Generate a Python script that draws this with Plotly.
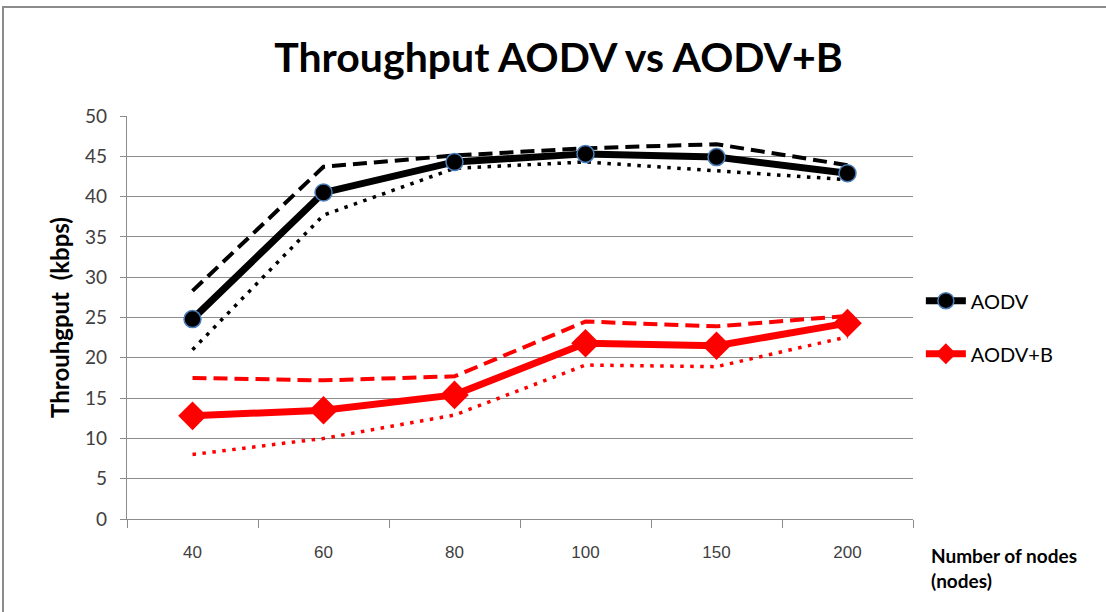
import plotly.graph_objects as go

# Number of nodes (categories on the x axis)
nodes = ["40", "60", "80", "100", "150", "200"]

# AODV throughput (kbps): mean with upper / lower bounds
aodv = [24.8, 40.5, 44.3, 45.3, 44.9, 42.9]
aodv_upper = [28.3, 43.7, 45.1, 46.0, 46.5, 43.9]
aodv_lower = [21.0, 37.7, 43.5, 44.3, 43.2, 42.1]

# AODV+B throughput (kbps): mean with upper / lower bounds
aodvb = [12.8, 13.5, 15.4, 21.8, 21.5, 24.3]
aodvb_upper = [17.5, 17.2, 17.7, 24.5, 23.9, 25.2]
aodvb_lower = [8.0, 10.0, 12.9, 19.1, 18.9, 22.6]

y_ticks = [0, 5, 10, 15, 20, 25, 30, 35, 40, 45, 50]

BLACK = "#000000"
RED = "#ff0000"
GRID = "#8c8c8c"

fig = go.Figure()

# bound lines (not listed in legend)
fig.add_trace(go.Scatter(x=nodes, y=aodv_upper, mode="lines", showlegend=False,
                         line=dict(color=BLACK, width=4, dash="14px,7px")))
fig.add_trace(go.Scatter(x=nodes, y=aodv_lower, mode="lines", showlegend=False,
                         line=dict(color=BLACK, width=3.5, dash="3.5px,6.5px")))
fig.add_trace(go.Scatter(x=nodes, y=aodvb_upper, mode="lines", showlegend=False,
                         line=dict(color=RED, width=4, dash="14px,7px")))
fig.add_trace(go.Scatter(x=nodes, y=aodvb_lower, mode="lines", showlegend=False,
                         line=dict(color=RED, width=3.5, dash="3.5px,6.5px")))

# main series
fig.add_trace(go.Scatter(x=nodes, y=aodv, mode="lines+markers", name="AODV",
                         legendgroup="a",
                         line=dict(color=BLACK, width=7),
                         marker=dict(symbol="circle", size=17, color=BLACK,
                                     line=dict(color="#4a7ebb", width=1.5))))
fig.add_trace(go.Scatter(x=nodes, y=aodvb, mode="lines+markers", name="AODV+B",
                         legendgroup="b",
                         line=dict(color=RED, width=7),
                         marker=dict(symbol="diamond", size=22, color=RED,
                                     line=dict(color=RED, width=0))))

fig.update_layout(
    width=1106, height=612,
    margin=dict(l=127, r=193, t=116, b=93),
    paper_bgcolor="white", plot_bgcolor="white",
    font=dict(family="Lato, Open Sans, sans-serif", color="#404040"),
    title=dict(text="<b>Throughput AODV vs AODV+B</b>",
               font=dict(family="Lato, Open Sans, sans-serif", size=41, color="#000000"),
               x=0.505, xanchor="center", xref="container", y=0.905, yanchor="middle"),
    xaxis=dict(type="category", range=[-0.5, 5.5], showgrid=False,
               showline=True, linecolor=GRID, linewidth=1.3,
               ticks="outside", tickson="boundaries", ticklen=8, tickcolor=GRID,
               tickfont=dict(family="Liberation Sans, Arial, sans-serif", size=17,
                             color="#404040"),
               ticklabelstandoff=17),
    yaxis=dict(range=[0, 50], tickvals=y_ticks, showgrid=True, gridcolor=GRID,
               gridwidth=1.3, showline=True, linecolor=GRID, linewidth=1.3,
               ticks="outside", ticklen=6, tickcolor=GRID,
               tickfont=dict(size=19, color="#404040"), ticklabelstandoff=9,
               title=dict(text="<b>Throuhgput  (kbps)</b>",
                          font=dict(size=24, color="#000000"), standoff=8),
               zeroline=False),
    legend=dict(x=1.01, xanchor="left", y=0.59, yanchor="top",
                font=dict(size=20, color="#000000"),
                tracegroupgap=24, itemwidth=40, bgcolor="rgba(0,0,0,0)"),
    annotations=[dict(text="<b>Number of nodes<br>(nodes)</b>", xref="paper", yref="paper",
                      x=(929 - 127) / 786, y=(519 - 542) / 403,
                      xanchor="left", yanchor="top", align="left", showarrow=False,
                      font=dict(size=19, color="#000000"))],
    shapes=[dict(type="rect", xref="paper", yref="paper",
                 xsizemode="pixel", ysizemode="pixel", xanchor=0, yanchor=0,
                 x0=-124, x1=1100, y0=-300, y1=512,
                 line=dict(color="#8c8c8c", width=2), fillcolor="rgba(0,0,0,0)",
                 layer="below")],
)

fig.write_html("out.html")
